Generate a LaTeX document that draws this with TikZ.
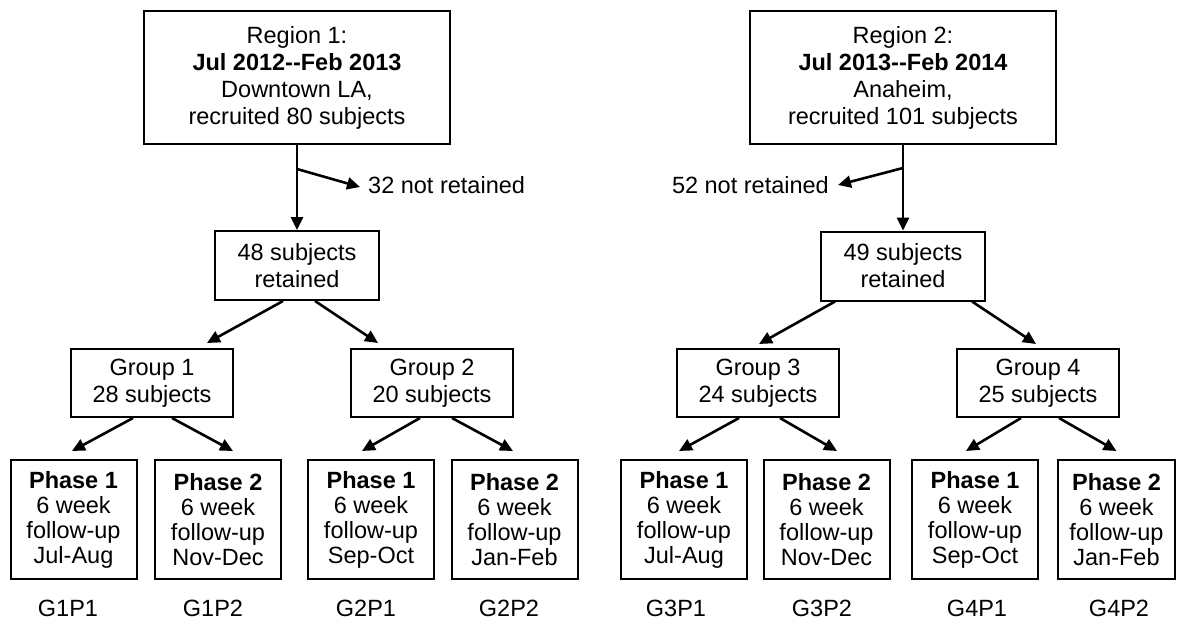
\documentclass[tikz,border=0pt]{standalone}
\usepackage{fontspec}
\setmainfont{Liberation Sans}
\usetikzlibrary{arrows.meta}
\begin{document}
\begin{tikzpicture}[x=1pt,y=-1pt,
  box/.style={draw, line width=2pt, align=center, inner sep=0pt, font=\fontsize{23.5}{27}\selectfont},
  big/.style={box, minimum width=306pt, minimum height=133pt},
  mid/.style={box, minimum width=164pt, minimum height=69pt},
  grp/.style={box, minimum width=162pt, minimum height=68pt},
  ph/.style={box, minimum width=126pt, minimum height=119pt, font=\fontsize{23.5}{25}\selectfont},
  lab/.style={font=\fontsize{23.5}{27}\selectfont, inner sep=0pt},
  arr/.style={-{Triangle[length=13pt,width=12pt]}, line width=2.6pt},
]
\useasboundingbox (0,0) rectangle (1177,619);
% left tree
\node[big] (r1) at (297,77.5) {Region 1:\\\textbf{Jul 2012-{}-Feb 2013}\\Downtown LA,\\recruited 80 subjects};
\node[mid] (k1) at (297,265.5) {48 subjects\\retained};
\node[lab, anchor=west] (n1) at (368,185) {32 not retained};
\node[grp] (g1) at (152,383) {Group 1\\28 subjects};
\node[grp] (g2) at (432,383) {Group 2\\20 subjects};
\node[ph] (p11) at (73.5,519.5) {\textbf{Phase 1}\\6 week\\follow-up\\Jul-Aug};
\node[ph] (p12) at (218,519.5) {\textbf{Phase 2}\\6 week\\follow-up\\Nov-Dec};
\node[ph] (p21) at (371,519.5) {\textbf{Phase 1}\\6 week\\follow-up\\Sep-Oct};
\node[ph] (p22) at (514.5,519.5) {\textbf{Phase 2}\\6 week\\follow-up\\Jan-Feb};
\node[lab] (l11) at (68,608) {G1P1};
\node[lab] (l12) at (213,608) {G1P2};
\node[lab] (l21) at (366,608) {G2P1};
\node[lab] (l22) at (509,608) {G2P2};
% right tree
\node[big] (r2) at (903,77.5) {Region 2:\\\textbf{Jul 2013-{}-Feb 2014}\\Anaheim,\\recruited 101 subjects};
\node[mid] (k2) at (903,266) {49 subjects\\retained};
\node[lab, anchor=east] (n2) at (829,185) {52 not retained};
\node[grp] (g3) at (758,383) {Group 3\\24 subjects};
\node[grp] (g4) at (1038,383) {Group 4\\25 subjects};
\node[ph] (p31) at (684,519.5) {\textbf{Phase 1}\\6 week\\follow-up\\Jul-Aug};
\node[ph] (p32) at (826.5,519.5) {\textbf{Phase 2}\\6 week\\follow-up\\Nov-Dec};
\node[ph] (p41) at (975,519.5) {\textbf{Phase 1}\\6 week\\follow-up\\Sep-Oct};
\node[ph, minimum width=117pt] (p42) at (1116.5,519.5) {\textbf{Phase 2}\\6 week\\follow-up\\Jan-Feb};
\node[lab] (l31) at (676,608) {G3P1};
\node[lab] (l32) at (822,608) {G3P2};
\node[lab] (l41) at (977,608) {G4P1};
\node[lab] (l42) at (1119,608) {G4P2};
% connectors left
\draw[arr] (r1.south) -- (k1.north);
\draw[arr] ([yshift=-24pt]r1.south) -- ([xshift=-8pt,yshift=-2pt]n1.west);
\draw[arr] ([xshift=-14pt]k1.south) -- ([xshift=55pt,yshift=5pt]g1.north);
\draw[arr] ([xshift=18pt]k1.south) -- ([xshift=-54pt,yshift=5pt]g2.north);
\draw[arr] ([xshift=-19pt]g1.south) -- ([xshift=-1.5pt,yshift=8pt]p11.north);
\draw[arr] ([xshift=20pt]g1.south) -- ([xshift=15pt,yshift=8pt]p12.north);
\draw[arr] ([xshift=-12pt]g2.south) -- ([xshift=-9pt,yshift=8pt]p21.north);
\draw[arr] ([xshift=20pt]g2.south) -- ([xshift=-1.5pt,yshift=8pt]p22.north);
% connectors right
\draw[arr] (r2.south) -- (k2.north);
\draw[arr] ([yshift=-23pt]r2.south) -- ([xshift=9pt]n2.east);
\draw[arr] ([xshift=-68pt]k2.south) -- ([xshift=1pt,yshift=4pt]g3.north);
\draw[arr] ([xshift=69pt]k2.south) -- ([xshift=-2pt,yshift=4pt]g4.north);
\draw[arr] ([xshift=-19pt]g3.south) -- ([xshift=-5pt,yshift=8pt]p31.north);
\draw[arr] ([xshift=22pt]g3.south) -- ([xshift=10.5pt,yshift=8pt]p32.north);
\draw[arr] ([xshift=-17pt]g4.south) -- ([xshift=-9pt,yshift=8pt]p41.north);
\draw[arr] ([xshift=21pt]g4.south) -- ([xshift=0pt,yshift=8pt]p42.north);
\end{tikzpicture}
\end{document}
